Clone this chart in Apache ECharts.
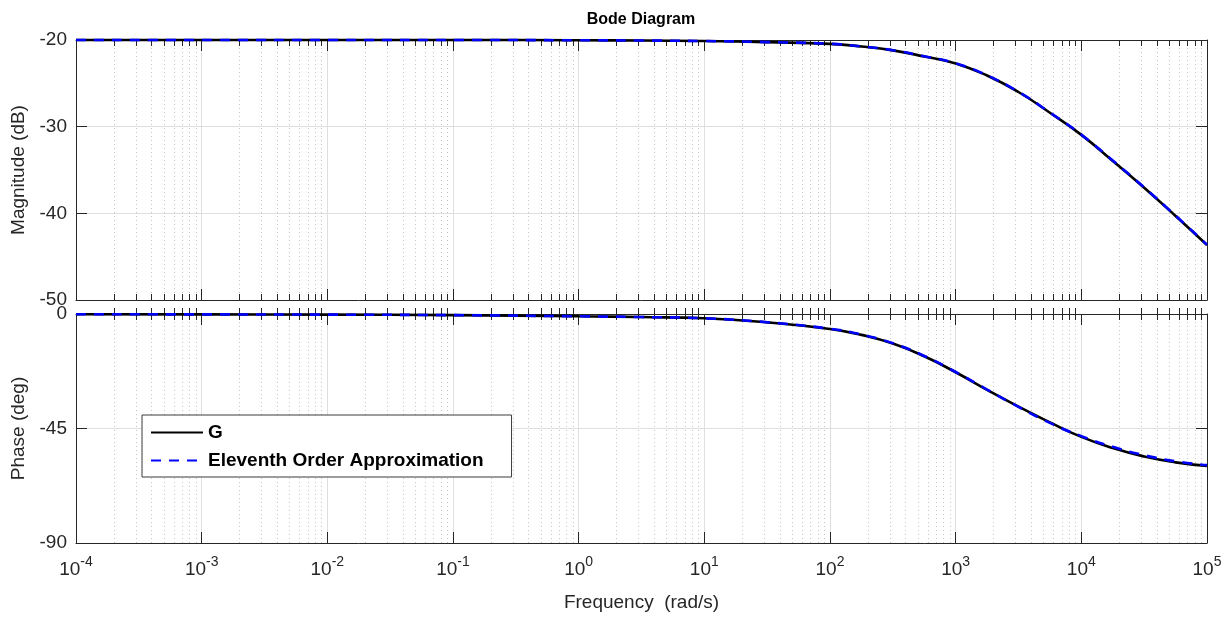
<!DOCTYPE html>
<html><head><meta charset="utf-8">
<script src="https://cdn.jsdelivr.net/npm/echarts@6/dist/echarts.min.js"></script>
<style>html,body{margin:0;padding:0;background:#fff}#c{width:1226px;height:617px}</style>
</head><body><div id="c"></div>
<script>
// ---- data ----
const frequency = [1e-4, 1e-3, 1e-2, 1e-1, 1, 3.162, 10, 31.62, 100, 177.8, 316.2, 562.3, 1000, 1778, 3162, 5623, 10000, 17783, 31623, 56234, 100000];
const magG      = [-20.00, -20.00, -20.00, -20.00, -20.03, -20.06, -20.12, -20.25, -20.45, -20.75, -21.20, -21.90, -22.70, -24.10, -26.00, -28.40, -30.95, -33.95, -37.05, -40.30, -43.65];
const magApprox = [-20.00, -20.00, -20.00, -20.00, -20.03, -20.06, -20.12, -20.24, -20.44, -20.74, -21.18, -21.88, -22.68, -24.08, -25.98, -28.37, -30.92, -33.91, -37.01, -40.27, -43.62];
const phaseG      = [-0.10, -0.15, -0.25, -0.45, -0.90, -1.20, -1.70, -3.30, -5.90, -8.20, -11.60, -16.60, -22.90, -29.80, -36.40, -42.60, -48.30, -52.70, -56.00, -58.30, -59.70];
const phaseApprox = [-0.10, -0.15, -0.25, -0.45, -0.90, -1.20, -1.70, -3.25, -5.80, -8.10, -11.50, -16.50, -22.80, -29.70, -36.50, -42.80, -48.00, -52.20, -55.50, -57.90, -59.40];
const decadeExponents = [-4, -3, -2, -1, 0, 1, 2, 3, 4, 5];
const magTicks = [-50, -40, -30, -20];
const phaseTicks = [-90, -45, 0];
const seriesNames = ['G', 'Eleventh Order Approximation'];

// ---- build ----
const lx = frequency.map(f => Math.log10(f));
const minorTicks = [];
decadeExponents.slice(0, -1).forEach(d => { for (let k = 2; k <= 9; k++) minorTicks.push(Math.log10(k) + d); });

const AX = '#262626';
const FONT = 'Liberation Sans, Arial, Helvetica, sans-serif';

function xAxes(gridIndex, withLabels) {
  const base = { type: 'value', gridIndex, min: -4, max: 5, interval: 1 };
  return [
    Object.assign({}, base, {
      position: 'bottom',
      axisLine: { show: true, onZero: false, lineStyle: { color: AX, width: 1 } },
      axisTick: { show: true, inside: true, length: 11, lineStyle: { color: AX } },
      axisLabel: withLabels ? {
        show: true, margin: 12, color: AX, fontFamily: FONT,
        formatter: v => '{b|10}{s|' + Math.round(v) + '}',
        rich: { b: { fontSize: 19, fontFamily: FONT, color: AX, verticalAlign: 'bottom' },
                s: { fontSize: 14, fontFamily: FONT, color: AX, verticalAlign: 'bottom', padding: [0, 0, 10, 0] } }
      } : { show: false },
      splitLine: { show: true, lineStyle: { color: '#dfdfdf', width: 1 } },
      name: withLabels ? 'Frequency  (rad/s)' : '',
      nameLocation: 'middle', nameGap: 50,
      nameTextStyle: { fontSize: 19, fontFamily: FONT, color: AX }
    }),
    Object.assign({}, base, {
      position: 'top',
      axisLine: { show: true, onZero: false, lineStyle: { color: AX, width: 1 } },
      axisTick: { show: true, inside: true, length: 11, lineStyle: { color: AX } },
      axisLabel: { show: false }, splitLine: { show: false }
    }),
    Object.assign({}, base, {
      position: 'bottom',
      axisLine: { show: false },
      axisTick: { show: true, inside: true, length: 6, customValues: minorTicks, lineStyle: { color: AX } },
      axisLabel: { show: false },
      splitLine: { show: true, lineStyle: { color: '#c4c4c4', width: 1, type: [1, 3] } }
    }),
    Object.assign({}, base, {
      position: 'top',
      axisLine: { show: false },
      axisTick: { show: true, inside: true, length: 6, customValues: minorTicks, lineStyle: { color: AX } },
      axisLabel: { show: false }, splitLine: { show: false }
    })
  ];
}

function yAxes(gridIndex, min, max, interval, name) {
  return [
    { type: 'value', gridIndex, min, max, interval, position: 'left',
      axisLine: { show: true, onZero: false, lineStyle: { color: AX } },
      axisTick: { show: true, inside: true, length: 11, lineStyle: { color: AX } },
      axisLabel: { show: true, margin: 9, fontSize: 19, fontFamily: FONT, color: AX },
      splitLine: { show: true, lineStyle: { color: '#dfdfdf', width: 1 } },
      name, nameLocation: 'middle', nameGap: 46,
      nameTextStyle: { fontSize: 19, fontFamily: FONT, color: AX } },
    { type: 'value', gridIndex, min, max, interval, position: 'right',
      axisLine: { show: true, onZero: false, lineStyle: { color: AX } },
      axisTick: { show: true, inside: true, length: 11, lineStyle: { color: AX } },
      axisLabel: { show: false }, splitLine: { show: false } }
  ];
}

function mk(name, ys, xi, yi, isApprox) {
  return {
    name, type: 'line', xAxisIndex: xi, yAxisIndex: yi,
    data: lx.map((x, i) => [x, ys[i]]),
    showSymbol: false, symbol: 'none', smooth: 0.5, clip: false,
    lineStyle: isApprox ? { color: '#0000ff', width: 2.6, type: [10, 8] } : { color: '#000000', width: 2.6 },
    itemStyle: { color: isApprox ? '#0000ff' : '#000000' },
    z: isApprox ? 4 : 3, animation: false
  };
}

const chart = echarts.init(document.getElementById('c'), null, { renderer: 'canvas' });
chart.setOption({
  animation: false,
  backgroundColor: '#ffffff',
  title: { text: 'Bode Diagram', left: 636, top: 7, textAlign: 'center',
           textStyle: { fontSize: 16, fontWeight: 'bold', fontFamily: FONT, color: '#000' } },
  grid: [
    { left: 76, top: 40, width: 1131, height: 260, outerBoundsMode: 'none' },
    { left: 76, top: 314, width: 1131, height: 229, outerBoundsMode: 'none' }
  ],
  xAxis: xAxes(0, false).concat(xAxes(1, true)),
  yAxis: yAxes(0, magTicks[0], magTicks[magTicks.length - 1], 10, 'Magnitude (dB)')
         .concat(yAxes(1, phaseTicks[0], phaseTicks[phaseTicks.length - 1], 45, 'Phase (deg)')),
  legend: {
    data: seriesNames, orient: 'vertical', left: 142, top: 415,
    icon: 'inherit', itemStyle: { opacity: 0 },
    padding: [8, 28, 7, 8], itemGap: 9, itemWidth: 52, itemHeight: 14,
    backgroundColor: '#ffffff', borderColor: '#3a3a3a', borderWidth: 1, borderRadius: 0,
    textStyle: { fontSize: 19, fontWeight: 'bold', fontFamily: FONT, color: '#000' },
    selectedMode: false
  },
  series: [
    mk(seriesNames[0], magG, 0, 0, false),
    mk(seriesNames[1], magApprox, 0, 0, true),
    mk(seriesNames[0], phaseG, 4, 2, false),
    mk(seriesNames[1], phaseApprox, 4, 2, true)
  ]
});
</script></body></html>
